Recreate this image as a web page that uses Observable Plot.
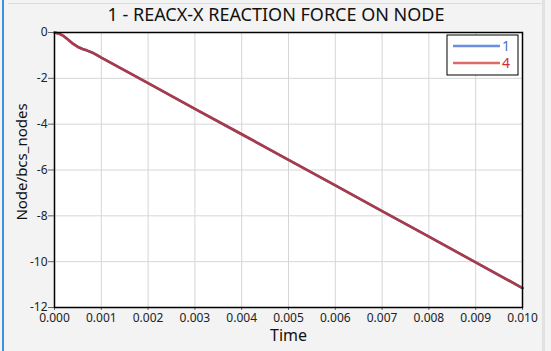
<!DOCTYPE html>
<html>
<head>
<meta charset="utf-8">
<script src="https://cdn.jsdelivr.net/npm/d3@7"></script>
<script src="https://cdn.jsdelivr.net/npm/@observablehq/plot@0.6"></script>
<style>
  html, body { margin: 0; padding: 0; background: #f3f3f3; }
  #wrap { position: relative; width: 551px; height: 351px; overflow: hidden; background: #f3f3f3; font-family: "Noto Sans", "Open Sans", sans-serif; }
  #lb { position: absolute; left: 2px; top: 0; width: 2px; height: 351px; background: #3b93dc; }
  #tb { position: absolute; left: 8px; top: 3px; width: 534px; height: 1px; background: #dcdcdc; }
  #rb { position: absolute; left: 542px; top: 0; width: 3px; height: 351px; background: #e2e2e2; }
  #chart { position: absolute; left: 0; top: 0; }
</style>
</head>
<body>
<div id="wrap">
  <div id="chart"></div>
  <div id="lb"></div>
  <div id="tb"></div>
  <div id="rb"></div>
</div>
<script>
const title = "1 - REACX-X REACTION FORCE ON NODE";
const xLabel = "Time";
const yLabel = "Node/bcs_nodes";
const seriesNames = ["1", "4"];
const seriesColors = ["#6a8ee0", "#e06a66"];
const lineColors = ["#6a8ee0", "#ab3a46"];
const time = [0, 0.0001, 0.0002, 0.0003, 0.0004, 0.0005, 0.0006, 0.0007, 0.0008, 0.0009, 0.001,
              0.002, 0.003, 0.004, 0.005, 0.006, 0.007, 0.008, 0.009, 0.010];
const force1 = [0, -0.05, -0.16, -0.33, -0.5, -0.63, -0.72, -0.79, -0.87, -0.98, -1.1,
                -2.21, -3.33, -4.44, -5.56, -6.67, -7.79, -8.91, -10.03, -11.15];
const force4 = [0, -0.05, -0.16, -0.33, -0.5, -0.63, -0.72, -0.79, -0.87, -0.98, -1.1,
                -2.21, -3.33, -4.44, -5.56, -6.67, -7.79, -8.91, -10.03, -11.15];
const xTicks = [0, 0.001, 0.002, 0.003, 0.004, 0.005, 0.006, 0.007, 0.008, 0.009, 0.010];
const yTicks = [0, -2, -4, -6, -8, -10, -12];

const data = [];
time.forEach((t, i) => data.push({t, v: force1[i], s: seriesNames[0]}));
time.forEach((t, i) => data.push({t, v: force4[i], s: seriesNames[1]}));

const W = 551, H = 351;
const plot = Plot.plot({
  width: W, height: H,
  marginLeft: 54, marginRight: 29, marginTop: 32, marginBottom: 44,
  style: { background: "transparent", fontFamily: "Noto Sans, Open Sans, sans-serif", fontSize: "12px", color: "#222" },
  x: { domain: [0, 0.010], label: null },
  y: { domain: [-12, 0], label: null },
  color: { domain: seriesNames, range: lineColors },
  marks: [
    Plot.frame({fill: "white"}),
    Plot.gridX(xTicks, {stroke: "#d6d6d6", strokeOpacity: 1}),
    Plot.gridY(yTicks, {stroke: "#d6d6d6", strokeOpacity: 1}),
    Plot.axisX({ticks: xTicks, tickFormat: d3.format(".3f"), tickSize: 3, tickPadding: 3, fontSize: 12, stroke: "#666", fill: "#222", label: null}),
    Plot.axisY({ticks: yTicks, tickFormat: d => String(d), tickSize: 6, tickPadding: 1, fontSize: 12, stroke: "#666", fill: "#222", label: null}),
    Plot.line(data, {x: "t", y: "v", z: "s", stroke: "s", strokeWidth: 2.6}),
    Plot.frame({stroke: "black", strokeWidth: 1.5}),
    Plot.text([title], {frameAnchor: "top", lineAnchor: "middle", textAnchor: "middle", dx: -12.5, dy: -17, fontSize: 18, fill: "#111", text: d => d}),
    Plot.text([xLabel], {frameAnchor: "bottom", lineAnchor: "middle", textAnchor: "middle", dy: 28, fontSize: 16, fill: "#111", text: d => d}),
    Plot.text([yLabel], {frameAnchor: "left", lineAnchor: "middle", textAnchor: "middle", dx: -32, dy: -8, rotate: -90, fontSize: 15, fill: "#111", text: d => d})
  ]
});
document.getElementById("chart").appendChild(plot);

// legend
const svg = d3.select(plot);
const lg = svg.append("g").attr("transform", "translate(447,35)");
lg.append("rect").attr("width", 71).attr("height", 40).attr("fill", "white").attr("stroke", "black").attr("stroke-width", 1);
seriesNames.forEach((n, i) => {
  const y = 11 + i * 17;
  lg.append("line").attr("x1", 6).attr("x2", 53).attr("y1", y).attr("y2", y)
    .attr("stroke", seriesColors[i]).attr("stroke-width", 2.5);
  lg.append("text").attr("x", 59).attr("y", y + 5).attr("fill", i === 0 ? "#4a72d0" : "#d03030")
    .attr("font-size", 14).attr("font-family", "Noto Sans, sans-serif").text(n);
});
</script>
</body>
</html>
